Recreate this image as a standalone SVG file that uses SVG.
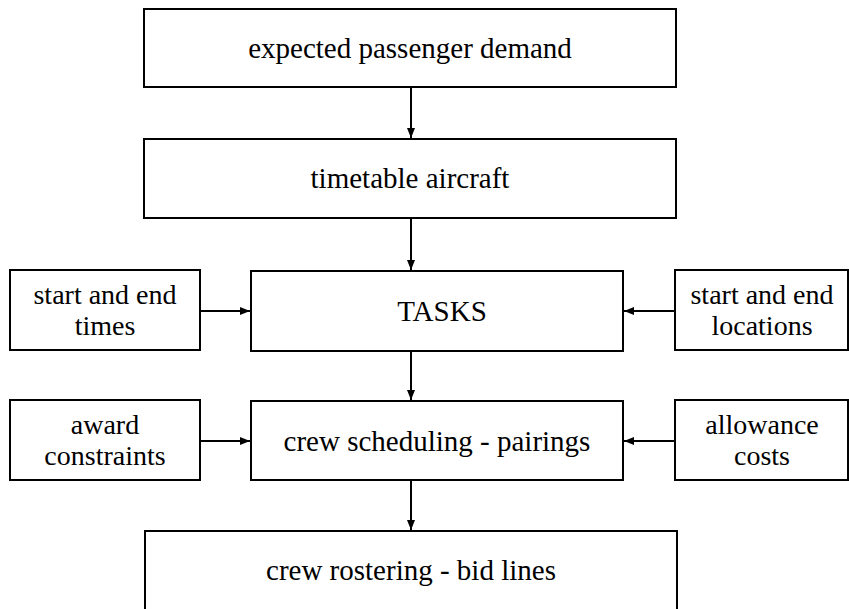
<svg xmlns="http://www.w3.org/2000/svg" width="849" height="609" viewBox="0 0 849 609">
<style>
.box{fill:#fff;stroke:#000;stroke-width:2}
.t{font-family:"Liberation Serif","Times New Roman",serif;font-size:29px;fill:#000;text-anchor:middle}
.s{font-size:28px}
.c{stroke:#000;stroke-width:2;fill:none;marker-end:url(#ah)}
</style>
<defs>
<marker id="ah" viewBox="0 0 10 8" refX="10" refY="4" markerWidth="10" markerHeight="8" markerUnits="userSpaceOnUse" orient="auto">
<path d="M0,0 L10,4 L0,8 Z" fill="#000"/>
</marker>
</defs>
<rect width="849" height="609" fill="#fff"/>
<g id="connectors">
<line class="c" x1="411" y1="88" x2="411" y2="138"/>
<line class="c" x1="411" y1="219" x2="411" y2="270"/>
<line class="c" x1="411" y1="352" x2="411" y2="400"/>
<line class="c" x1="411" y1="481" x2="411" y2="530"/>
<line class="c" x1="201" y1="311" x2="250" y2="311"/>
<line class="c" x1="674" y1="311" x2="624" y2="311"/>
<line class="c" x1="201" y1="441" x2="250" y2="441"/>
<line class="c" x1="674" y1="441" x2="624" y2="441"/>
</g>
<g id="demand">
<rect class="box" x="144" y="9" width="532" height="78"/>
<text class="t" x="410" y="58">expected passenger demand</text>
</g>
<g id="timetable">
<rect class="box" x="144" y="139" width="532" height="79"/>
<text class="t" x="410" y="188">timetable aircraft</text>
</g>
<g id="tasks">
<rect class="box" x="251" y="271" width="372" height="80"/>
<text class="t" x="442" y="321">TASKS</text>
</g>
<g id="times">
<rect class="box" x="10" y="270" width="190" height="80"/>
<text class="t s" x="105" y="304">start and end</text>
<text class="t s" x="105" y="335">times</text>
</g>
<g id="locations">
<rect class="box" x="675" y="270" width="173" height="80"/>
<text class="t s" x="762" y="304">start and end</text>
<text class="t s" x="762" y="335">locations</text>
</g>
<g id="pairings">
<rect class="box" x="251" y="401" width="372" height="79"/>
<text class="t" x="437" y="451">crew scheduling - pairings</text>
</g>
<g id="award">
<rect class="box" x="10" y="400" width="190" height="80"/>
<text class="t s" x="105" y="434">award</text>
<text class="t s" x="105" y="465">constraints</text>
</g>
<g id="allowance">
<rect class="box" x="675" y="400" width="173" height="80"/>
<text class="t s" x="762" y="434">allowance</text>
<text class="t s" x="762" y="465">costs</text>
</g>
<g id="rostering">
<rect class="box" x="145" y="531" width="532" height="90"/>
<text class="t" x="411" y="580">crew rostering - bid lines</text>
</g>
</svg>
